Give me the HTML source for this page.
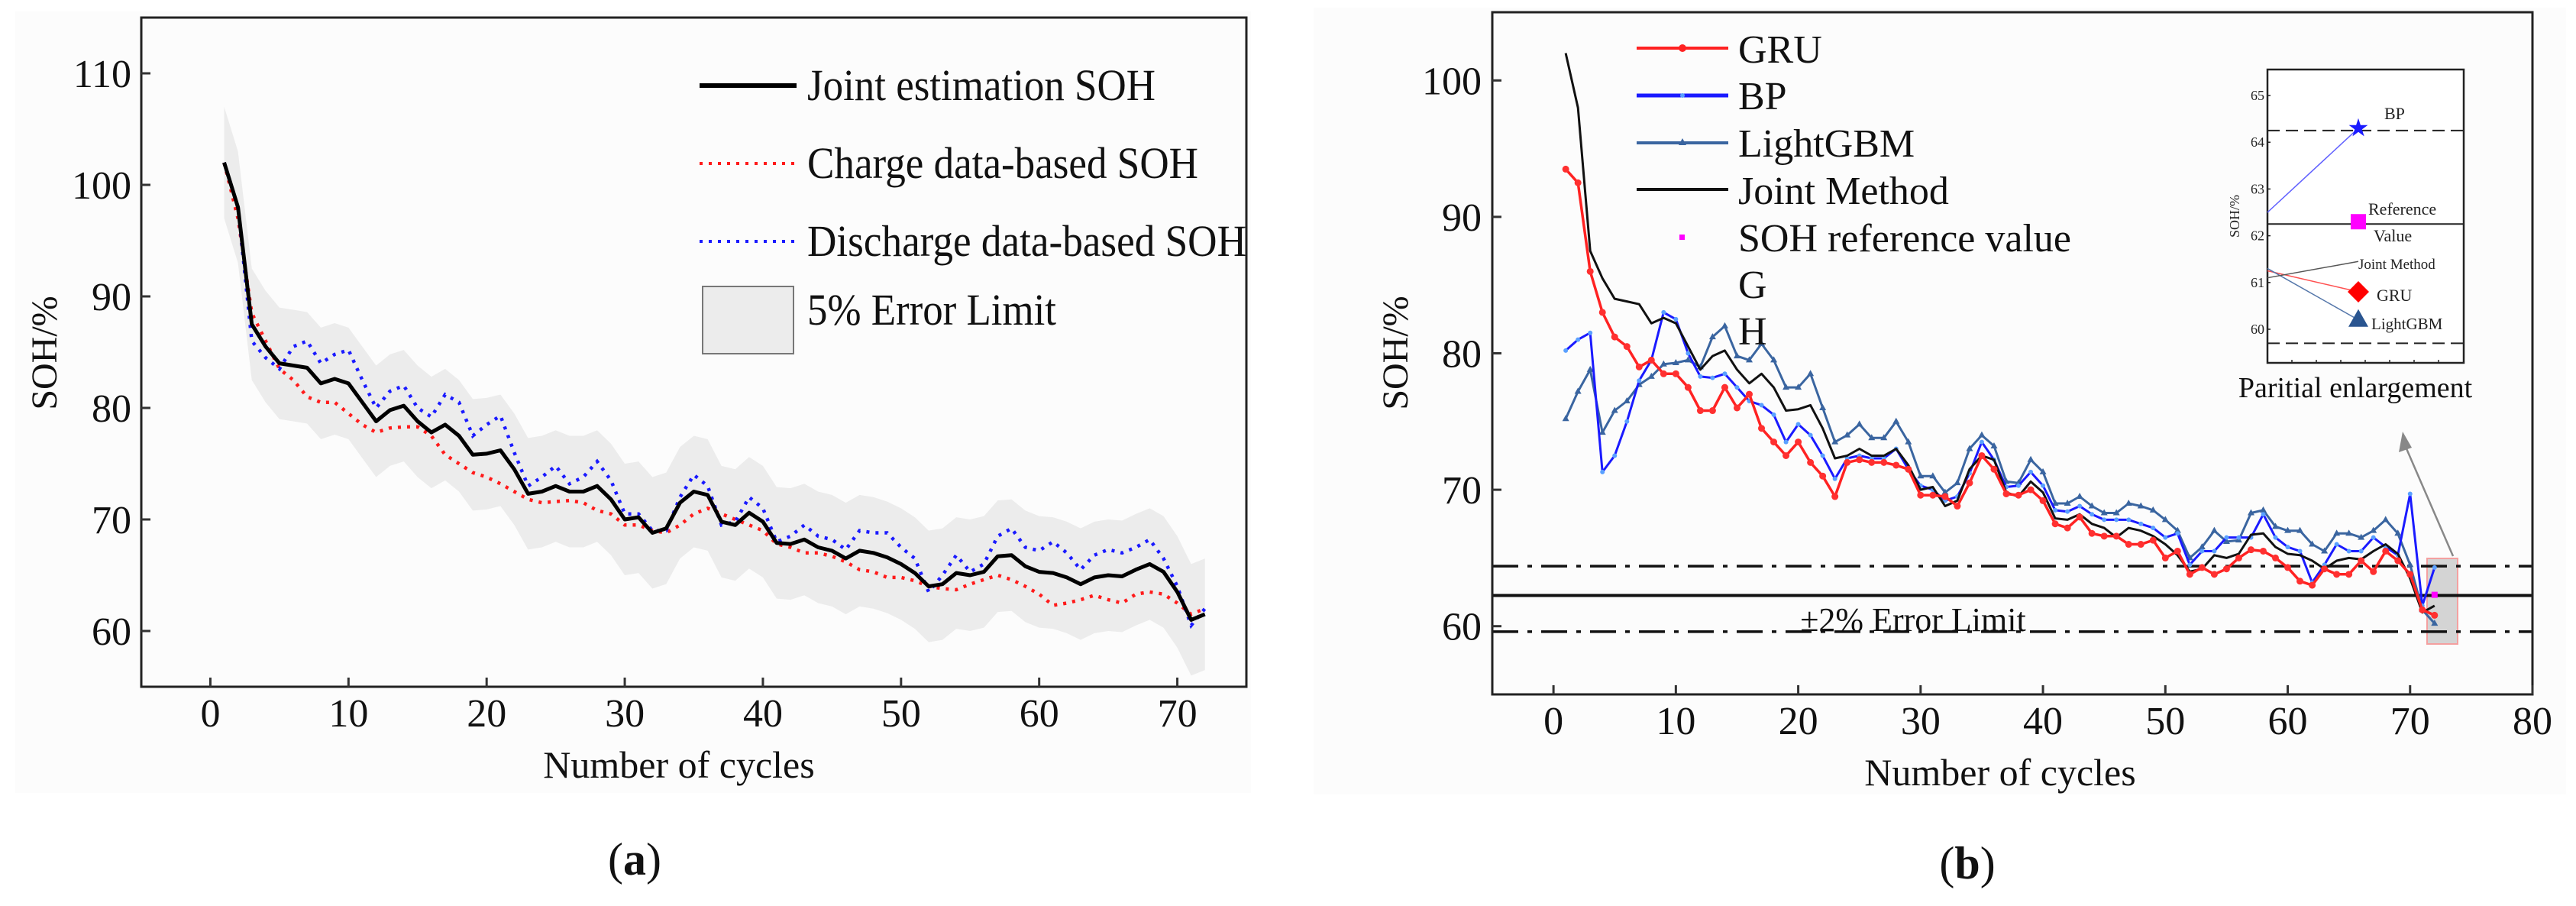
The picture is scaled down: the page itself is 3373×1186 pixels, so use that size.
<!DOCTYPE html>
<html><head><meta charset="utf-8">
<style>
html,body{margin:0;padding:0;background:#fff;}
svg{display:block;}
svg text, svg tspan{font-family:"Liberation Serif","Times New Roman",serif;}
</style></head>
<body>
<svg id="fig" width="3373" height="1186" viewBox="0 0 3373 1186" xmlns="http://www.w3.org/2000/svg" font-family="Liberation Serif, serif">
<rect x="0" y="0" width="3373" height="1186" fill="#fff"/>
<rect x="20" y="15" width="1618" height="1023" fill="#fcfcfc"/>
<rect x="1720" y="10" width="1640" height="1030" fill="#fcfcfc"/>
<g id="chartA"></g>
<g id="chartB"></g>
</svg>
<script>
// ---------- data: chart (a) ----------
const cyclesA = [1,2,3,4,5,6,7,8,9,10,11,12,13,14,15,16,17,18,19,20,21,22,23,24,25,26,27,28,29,30,31,32,33,34,35,36,37,38,39,40,41,42,43,44,45,46,47,48,49,50,51,52,53,54,55,56,57,58,59,60,61,62,63,64,65,66,67,68,69,70,71,72];
const jointA = [102,98,87.5,85.5,84,83.8,83.6,82.2,82.6,82.2,80.5,78.8,79.8,80.2,78.8,77.8,78.5,77.5,75.8,75.9,76.2,74.5,72.3,72.5,73,72.5,72.5,73,71.8,70,70.2,68.8,69.2,71.5,72.5,72.2,69.8,69.5,70.6,69.8,67.9,67.8,68.2,67.5,67.2,66.5,67.2,67,66.6,66,65.2,64,64.2,65.2,65,65.3,66.7,66.8,65.8,65.3,65.2,64.8,64.2,64.8,65,64.9,65.5,66,65.3,63.5,61,61.5];
const chargeA = [102,97,88.5,86,83.5,82.5,81,80.5,80.5,79.5,78.5,77.8,78.2,78.3,78.3,77.5,75.8,75,74.2,73.8,73.2,72.5,71.8,71.5,71.6,71.7,71.5,70.8,70.5,69.5,69.5,69,68.8,69.5,70.5,71,70.5,70,69.5,69,67.8,67.5,67,67,66.7,66.2,65.5,65.3,64.8,64.8,64.5,64,63.8,63.7,64.2,64.6,65,64.6,64,63.3,62.3,62.5,62.8,63.2,62.8,62.5,63.3,63.5,63.3,62.5,61.5,62];
const dischargeA = [102,98,86,84.5,83.5,85.5,86,84,84.8,85.2,82.5,80,81.5,82,80,79.2,81.2,80.5,77.5,78.5,79.3,76,73,73.8,74.8,73.2,73.8,75.2,73.5,70.5,70.5,69,69,72,74,73,69.5,69.8,72,71,68,68.5,69.5,68.5,68.2,67.3,69,68.8,68.8,67.5,66.5,63.5,65,66.8,65.3,66,68.5,69.2,67.5,67.2,68,67,65.5,66.8,67.3,67,67.5,68.2,66.5,64,60.5,62];
const errorLimitA = 5;
const xTicksA = [0,10,20,30,40,50,60,70];
const yTicksA = [60,70,80,90,100,110];

// ---------- data: chart (b) ----------
const cyclesB = cyclesA;
const gruB = [93.5,92.5,86,83,81.2,80.5,79,79.5,78.5,78.5,77.5,75.8,75.8,77.5,76,77,74.5,73.5,72.5,73.5,72,71,69.5,72,72.2,72,72,71.8,71.5,69.6,69.6,69.5,68.8,70.5,72.5,71.5,69.7,69.6,70,69.2,67.5,67.2,68,66.8,66.6,66.6,66,66,66.3,65,65.5,63.8,64.3,63.8,64.2,65,65.6,65.5,65,64.3,63.3,63,64.2,63.8,63.8,64.8,64,65.5,64.8,63.8,61.2,60.8];
const bpB = [80.2,81,81.5,71.3,72.5,75,78,79.5,83,82.5,80,78.3,78.2,78.5,77.5,76.5,76.2,75.5,73.5,74.8,74,72.5,70.8,72.3,72.5,72.3,72.3,73,71.5,70.3,70,69.2,69.5,71.2,73.5,72.2,70.2,70.3,71.3,70.3,68.5,68.4,68.8,68.2,67.8,67.8,67.8,67.5,67.2,66.5,66.8,64.5,65.5,65.5,66.5,66.5,66.5,68.2,66.5,65.8,65.5,63.2,64.5,66,65.5,65.5,66.5,65.8,65.2,69.7,61.5,64.3];
const lgbmB = [75.2,77.2,78.8,74.2,75.8,76.5,77.7,78.3,79.2,79.3,79.5,79,81.2,82,79.8,79.5,80.7,79.5,77.5,77.5,78.5,76,73.5,74,74.8,73.8,73.8,75,73.5,71,71,69.8,70.5,73,74,73.2,70.6,70.5,72.2,71.3,69,69,69.5,68.8,68.3,68.3,69,68.8,68.5,67.8,67,65,65.8,67,66.2,66.3,68.3,68.5,67.3,67,67,66,65.5,66.8,66.8,66.5,67,67.8,66.8,64.5,61.2,60.2];
const jointB = jointA;
const refCycleB = [72];
const refValueB = [62.3];
const errorLinesB = [64.4, 62.25, 59.6];
const xTicksB = [0,10,20,30,40,50,60,70,80];
const yTicksB = [60,70,80,90,100];
// inset values (partial enlargement)
const insetNames = ['BP','Reference Value','GRU','LightGBM'];
const insetValues = [64.3, 62.3, 60.8, 60.2];
const insetStart = [62.5, 61.3, 61.25, 61.3];
const insetJoint = [61.1, 61.45];
const insetTicks = [60,61,62,63,64,65];
const insetLines = [64.25, 62.25, 59.7];

const NS='http://www.w3.org/2000/svg';
function mk(parent, tag, attrs, text){
  const e=document.createElementNS(NS,tag);
  for(const k in attrs) e.setAttribute(k, attrs[k]);
  if(tag==='text') e.setAttribute('font-family','Liberation Serif, serif');
  if(text!==undefined) e.textContent=text;
  parent.appendChild(e);
  return e;
}
function lin(d0,d1,r0,r1){return v=>r0+(v-d0)*(r1-r0)/(d1-d0);}
function pathOf(xs,ys,sx,sy){return xs.map((x,i)=>(i?'L':'M')+sx(x).toFixed(1)+' '+sy(ys[i]).toFixed(1)).join(' ');}

// =============== Chart A ===============
(function(){
  const g=document.getElementById('chartA');
  const L=185,R=1632,T=23,B=899;
  const sx=lin(-5,75,L,R), sy=lin(55,115,B,T);
  const up=jointA.map(v=>v+errorLimitA), lo=jointA.map(v=>v-errorLimitA);
  let d=cyclesA.map((x,i)=>(i?'L':'M')+sx(x)+' '+sy(up[i])).join(' ');
  for(let i=cyclesA.length-1;i>=0;i--) d+=' L'+sx(cyclesA[i])+' '+sy(lo[i]);
  const band=mk(g,'path',{d:d+'Z',fill:'#ececec',stroke:'none'});
  
  
  const cl=mk(g,'path',{d:pathOf(cyclesA,chargeA,sx,sy),fill:'none',stroke:'#ff1a1a','stroke-width':4.5,'stroke-dasharray':'4 8'});
  
  
  const dl=mk(g,'path',{d:pathOf(cyclesA,dischargeA,sx,sy),fill:'none',stroke:'#1a1aff','stroke-width':4.5,'stroke-dasharray':'4 8'});
  
  
  const jl=mk(g,'path',{d:pathOf(cyclesA,jointA,sx,sy),fill:'none',stroke:'#000','stroke-width':5,'stroke-linejoin':'round'});
  
  
  const fr=mk(g,'rect',{x:L,y:T,width:R-L,height:B-T,fill:'none',stroke:'#222','stroke-width':3});
  
  
  xTicksA.forEach(v=>{
    mk(g,'line',{x1:sx(v),x2:sx(v),y1:B,y2:B-12,stroke:'#333','stroke-width':3});
    const t=mk(g,'text',{x:sx(v),y:951,'font-size':52,'text-anchor':'middle',fill:'#111'},String(v));
    
    
  });
  yTicksA.forEach(v=>{
    mk(g,'line',{x1:L,x2:L+12,y1:sy(v),y2:sy(v),stroke:'#333','stroke-width':3});
    const t=mk(g,'text',{x:172,y:sy(v)+18,'font-size':52,'text-anchor':'end',fill:'#111'},String(v));
    
    
  });
  const xt=mk(g,'text',{x:889,y:1018,'font-size':50,'text-anchor':'middle',fill:'#111'},'Number of cycles');
  
  
  const yt=mk(g,'text',{x:0,y:0,'font-size':48,'text-anchor':'middle',fill:'#111',transform:'translate(74,462) rotate(-90)'},'SOH/%');
  
  
  const cap=mk(g,'text',{x:831,y:1145,'font-size':60,'text-anchor':'middle',fill:'#111'});
  
  
  mk(cap,'tspan',{},'(');mk(cap,'tspan',{'font-weight':'bold'},'a');mk(cap,'tspan',{},')');
  const lg=mk(g,'g',{});
  
  
  mk(lg,'line',{x1:916,x2:1043,y1:112,y2:112,stroke:'#000','stroke-width':6});
  mk(lg,'line',{x1:916,x2:1043,y1:214,y2:214,stroke:'#ff1a1a','stroke-width':4,'stroke-dasharray':'4 8'});
  mk(lg,'line',{x1:916,x2:1043,y1:316,y2:316,stroke:'#1a1aff','stroke-width':4,'stroke-dasharray':'4 8'});
  mk(lg,'rect',{x:920,y:375,width:119,height:88,fill:'#ececec',stroke:'#777','stroke-width':2});
  const lt=[['Joint estimation SOH',131,456],['Charge data-based SOH',233,512],['Discharge data-based SOH',335,575],['5% Error Limit',425,326]];
  lt.forEach(a=>{
    const t=mk(lg,'text',{x:1057,y:a[1],'font-size':58,fill:'#111',textLength:a[2],lengthAdjust:'spacingAndGlyphs'},a[0]);
    
    
  });
})();

// =============== Chart B ===============
(function(){
  const g=document.getElementById('chartB');
  const L=1954,R=3316,T=16,B=909;
  const sx=lin(-5,80,L,R), sy=lin(55,105,B,T);
  const hb=mk(g,'rect',{x:3178,y:731,width:40,height:112,fill:'#d4d4d4',stroke:'#f4a0a0','stroke-width':2});
  
  
  errorLinesB.forEach((v,i)=>{
    const l=mk(g,'line',{x1:L,x2:R,y1:sy(v),y2:sy(v),stroke:'#111','stroke-width':i===1?4:3.5,'stroke-dasharray':i===1?'none':'34 12 6 12'});
    
    
  });
  const el=mk(g,'text',{x:2505,y:826,'font-size':44,'text-anchor':'middle',fill:'#111'},'±2% Error Limit');
  
  
  function series(vals,color,w,name){
    const p=mk(g,'path',{d:pathOf(cyclesB,vals,sx,sy),fill:'none',stroke:color,'stroke-width':w,'stroke-linejoin':'round'});
    
    
  }
  series(lgbmB,'#3a65a0',3,'lightgbm-line');
  lgbmB.forEach((v,i)=>{
    const x=sx(cyclesB[i]),y=sy(v);
    const m=mk(g,'path',{d:`M${x} ${y-5}L${x+4.5} ${y+3}L${x-4.5} ${y+3}Z`,fill:'#3a65a0'});
    
    
  });
  series(bpB,'#1a1aff',3,'bp-line');
  bpB.forEach((v,i)=>{
    const m=mk(g,'circle',{cx:sx(cyclesB[i]),cy:sy(v),r:3,fill:'#5aa0ff'});
    
    
  });
  series(jointB,'#111',3,'joint-method-line');
  series(gruB,'#ff2222',3.5,'gru-line');
  gruB.forEach((v,i)=>{
    const m=mk(g,'circle',{cx:sx(cyclesB[i]),cy:sy(v),r:4.5,fill:'#ff3030'});
    
    
  });
  refCycleB.forEach((c,i)=>{
    const m=mk(g,'rect',{x:sx(c)-4,y:sy(refValueB[i])-4,width:8,height:8,fill:'#ff00ff'});
    
    
  });
  const fr=mk(g,'rect',{x:L,y:T,width:R-L,height:B-T,fill:'none',stroke:'#222','stroke-width':3});
  
  
  xTicksB.forEach(v=>{
    mk(g,'line',{x1:sx(v),x2:sx(v),y1:B,y2:B-12,stroke:'#333','stroke-width':3});
    const t=mk(g,'text',{x:sx(v),y:961,'font-size':52,'text-anchor':'middle',fill:'#111'},String(v));
    
    
  });
  yTicksB.forEach(v=>{
    mk(g,'line',{x1:L,x2:L+12,y1:sy(v),y2:sy(v),stroke:'#333','stroke-width':3});
    const t=mk(g,'text',{x:1940,y:sy(v)+18,'font-size':52,'text-anchor':'end',fill:'#111'},String(v));
    
    
  });
  const xt=mk(g,'text',{x:2619,y:1028,'font-size':50,'text-anchor':'middle',fill:'#111'},'Number of cycles');
  
  
  const yt=mk(g,'text',{x:0,y:0,'font-size':48,'text-anchor':'middle',fill:'#111',transform:'translate(1843,462) rotate(-90)'},'SOH/%');
  
  
  const cap=mk(g,'text',{x:2576,y:1150,'font-size':60,'text-anchor':'middle',fill:'#111'});
  
  
  mk(cap,'tspan',{},'(');mk(cap,'tspan',{'font-weight':'bold'},'b');mk(cap,'tspan',{},')');
  const lg=mk(g,'g',{});
  
  
  mk(lg,'line',{x1:2143,x2:2263,y1:63,y2:63,stroke:'#ff2222','stroke-width':4});
  mk(lg,'circle',{cx:2203,cy:63,r:5,fill:'#ff2222'});
  mk(lg,'line',{x1:2143,x2:2263,y1:125,y2:125,stroke:'#1a1aff','stroke-width':5});
  mk(lg,'circle',{cx:2203,cy:125,r:3,fill:'#5aa0ff'});
  mk(lg,'line',{x1:2143,x2:2263,y1:187,y2:187,stroke:'#3a65a0','stroke-width':4});
  mk(lg,'path',{d:'M2203 181L2208 190L2198 190Z',fill:'#3a65a0'});
  mk(lg,'line',{x1:2143,x2:2263,y1:248,y2:248,stroke:'#111','stroke-width':4});
  mk(lg,'rect',{x:2199,y:307,width:7,height:7,fill:'#ff00ff'});
  const lt=[['GRU',82],['BP',143],['LightGBM',205],['Joint Method',267],['SOH reference value',329],['G',390],['H',451]];
  lt.forEach(a=>{
    const t=mk(lg,'text',{x:2276,y:a[1],'font-size':52,fill:'#111'},a[0]);
    
    
  });
  const ar=mk(g,'line',{x1:3212,x2:3150,y1:728,y2:585,stroke:'#888','stroke-width':2.5});
  
  
  mk(g,'path',{d:'M3146 565L3141 592L3158 586Z',fill:'#888'});

  const ig=mk(g,'g',{});
  
  
  const iL=2969,iR=3226,iT=91,iB=475, mx=3088;
  const iy=lin(60,65,431,125);
  mk(ig,'rect',{x:iL,y:iT,width:iR-iL,height:iB-iT,fill:'#fff',stroke:'#222','stroke-width':2.5});
  insetLines.forEach((v,i)=>{
    mk(ig,'line',{x1:iL,x2:iR,y1:iy(v),y2:iy(v),stroke:'#222','stroke-width':2,'stroke-dasharray':i===1?'none':'16 8'});
  });
  insetTicks.forEach(v=>{
    mk(ig,'line',{x1:iL,x2:iL+4,y1:iy(v),y2:iy(v),stroke:'#222','stroke-width':1.5});
    mk(ig,'text',{x:2965,y:iy(v)+6,'font-size':18,'text-anchor':'end',fill:'#222'},String(v));
  });
  for(let k=1;k<8;k++) mk(ig,'line',{x1:iL+k*32,x2:iL+k*32,y1:iB,y2:iB-4,stroke:'#222','stroke-width':1.5});
  mk(ig,'text',{x:0,y:0,'font-size':18,'text-anchor':'middle',fill:'#222',transform:'translate(2932,283) rotate(-90)'},'SOH/%');
  const cols=['#6060ff',null,'#ff5050','#5577aa'];
  insetValues.forEach((v,i)=>{
    if(cols[i]) mk(ig,'line',{x1:iL,x2:mx,y1:iy(insetStart[i]),y2:iy(v),stroke:cols[i],'stroke-width':1.5});
  });
  mk(ig,'line',{x1:iL,x2:mx,y1:iy(insetJoint[0]),y2:iy(insetJoint[1]),stroke:'#555','stroke-width':1.5});
  (function(){
    const y=iy(insetValues[0]);let p='';
    for(let k=0;k<10;k++){const r=k%2?5:13,a=-Math.PI/2+k*Math.PI/5;p+=(k?'L':'M')+(mx+r*Math.cos(a)).toFixed(1)+' '+(y+r*Math.sin(a)).toFixed(1);}
    const s=mk(ig,'path',{d:p+'Z',fill:'#1a1aff'});
    
    
  })();
  const sq=mk(ig,'rect',{x:mx-10,y:iy(insetValues[1])-10,width:20,height:20,fill:'#ff00ff'});
  
  
  const dy=iy(insetValues[2]);
  const dm=mk(ig,'path',{d:`M${mx} ${dy-14}L${mx+14} ${dy}L${mx} ${dy+14}L${mx-14} ${dy}Z`,fill:'#ff0000'});
  
  
  const ty=iy(insetValues[3]);
  const tm=mk(ig,'path',{d:`M${mx} ${ty-14}L${mx+13} ${ty+9}L${mx-13} ${ty+9}Z`,fill:'#2a5590'});
  
  
  const il=[['BP',3122,156,22],['Reference',3101,281,22],['Value',3108,316,22],['Joint Method',3088,352,19],['GRU',3112,394,22],['LightGBM',3105,431,21]];
  il.forEach(a=>{
    const t=mk(ig,'text',{x:a[1],y:a[2],'font-size':a[3],fill:'#222'},a[0]);
    
    
  });
  const pe=mk(g,'text',{x:3084,y:520,'font-size':38,'text-anchor':'middle',fill:'#111'},'Paritial enlargement');
  
  
})();
</script>
</body></html>
